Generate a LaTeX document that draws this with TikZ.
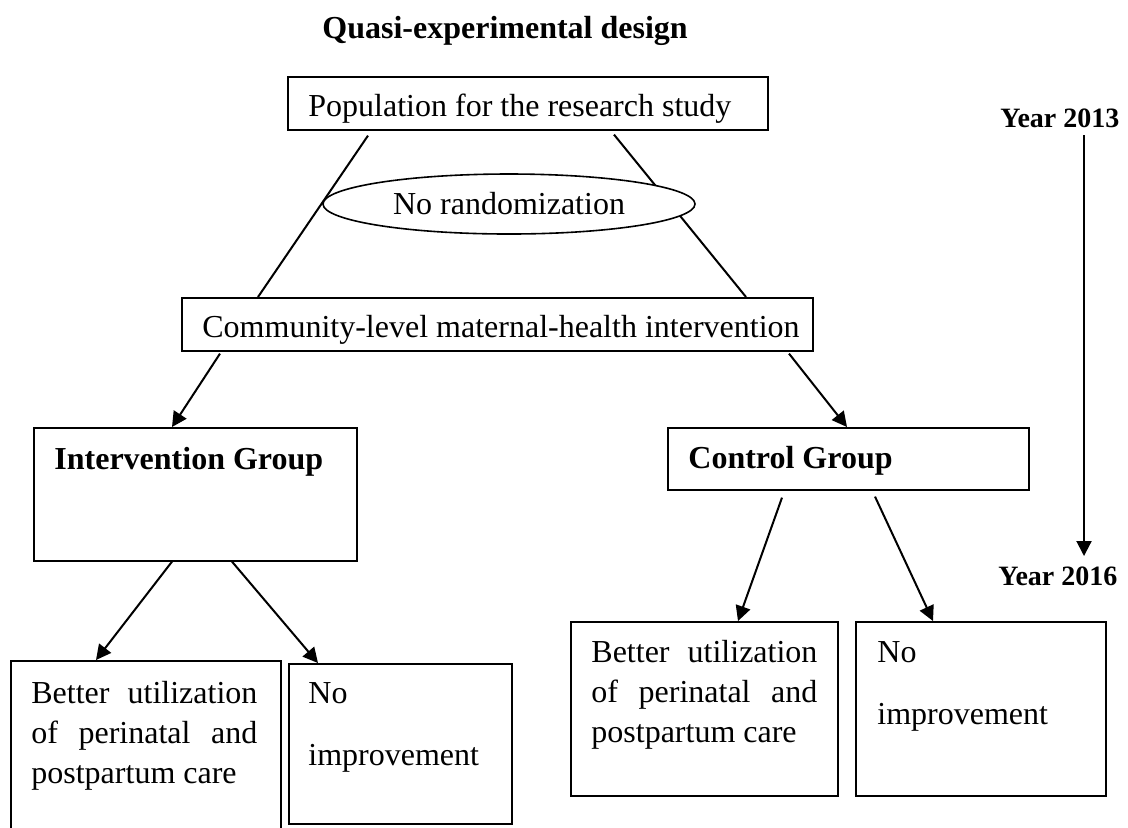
\documentclass[tikz,border=0pt]{standalone}
\usepackage{fontspec}
\setmainfont{Liberation Serif}
\usetikzlibrary{arrows.meta,shapes.geometric,calc}

\tikzset{
    box/.style={draw,line width=0.8pt,inner sep=0,anchor=north west},
    txt/.style={inner sep=0,anchor=base west,font=\boxfontsize},
    head/.style={inner sep=0,anchor=base west,font=\boxfontsize\bfseries},
    link/.style={line width=1pt},
    arr/.style={line width=1pt,-{Triangle[length=7.5pt,width=7.5pt]}},
}

\begin{document}
\begin{tikzpicture}[x=0.5pt,y=-0.5pt]
    \providecommand{\boxfontsize}{\fontsize{16pt}{20pt}\selectfont}
    \providecommand{\yearfontsize}{\fontsize{14pt}{17pt}\selectfont}
    \pgfmathsetmacro{\colwidth}{113}
    \useasboundingbox (0,0) rectangle (1128,827);
    \clip (0,0) rectangle (1128,827);

    \node[head] (title) at (322,38) {Quasi-experimental design};

    % boxes, placed by their top left corner
    \node[box,minimum width=240pt,minimum height=26.5pt] (pop) at (287,76) {};
    \node[box,minimum width=315.5pt,minimum height=26.5pt] (comm) at (181,297) {};
    \node[box,minimum width=161.5pt,minimum height=66.5pt] (ig) at (33,427) {};
    \node[box,minimum width=180.5pt,minimum height=31pt] (cg) at (667,427) {};
    \node[box,minimum width=135pt,minimum height=95pt] (lb1) at (10,660) {};
    \node[box,minimum width=111.5pt,minimum height=80pt] (lb2) at (288,663) {};
    \node[box,minimum width=133.5pt,minimum height=87pt] (rb1) at (570,621) {};
    \node[box,minimum width=125pt,minimum height=87pt] (rb2) at (855,621) {};

    % split lines run behind the ellipse
    \draw[link] ($(pop.south west)+(81,5)$) -- ($(comm.north west)+(77,0)$);
    \draw[link] ($(pop.south west)+(327,4)$) -- ($(comm.north west)+(565,0)$);
    \node[draw,ellipse,line width=0.8pt,fill=white,minimum width=186pt,minimum height=30pt,inner sep=0,font=\boxfontsize] (rand) at (509,204) {No randomization};

    \node[txt] (poptext) at (308,116) {Population for the research study};
    \node[txt] (commtext) at (202,337) {Community-level maternal-health intervention};
    \node[head] (igtext) at (54,469) {Intervention Group};
    \node[head] (cgtext) at (688,468) {Control Group};

    \node[txt] (lb1text) at (31,703) {\parbox[t]{\colwidth pt}{\makebox[\colwidth pt][s]{Better utilization}\\\makebox[\colwidth pt][s]{of perinatal and}\\postpartum care}};
    \node[txt] (lb2text) at (308,703) {\parbox[t]{80pt}{No\\[11pt]improvement}};
    \node[txt] (rb1text) at (591,662) {\parbox[t]{\colwidth pt}{\makebox[\colwidth pt][s]{Better utilization}\\\makebox[\colwidth pt][s]{of perinatal and}\\postpartum care}};
    \node[txt] (rb2text) at (877,662) {\parbox[t]{80pt}{No\\[11pt]improvement}};

    \draw[arr] ($(comm.south west)+(39,2)$) -- ($(ig.north west)+(139,0)$);
    \draw[arr] ($(comm.south west)+(608,2)$) -- ($(cg.north west)+(180,0)$);
    \draw[arr] ($(ig.south west)+(139,0)$) -- ($(lb1.north west)+(86,0)$);
    \draw[arr] ($(ig.south west)+(199,0)$) -- ($(lb2.north west)+(30,0)$);
    \draw[arr] ($(cg.south west)+(115,7)$) -- ($(rb1.north west)+(168,0)$);
    \draw[arr] ($(cg.south west)+(208,6)$) -- ($(rb2.north west)+(78,0)$);

    % time line
    \node[head,font=\yearfontsize\bfseries] (y13) at (1000,127) {Year 2013};
    \node[head,font=\yearfontsize\bfseries] (y16) at (998,585) {Year 2016};
    \coordinate (t0) at (1084,135);
    \coordinate (t1) at (1084,556);
    \draw[arr] (t0) -- (t1);
\end{tikzpicture}
\end{document}
